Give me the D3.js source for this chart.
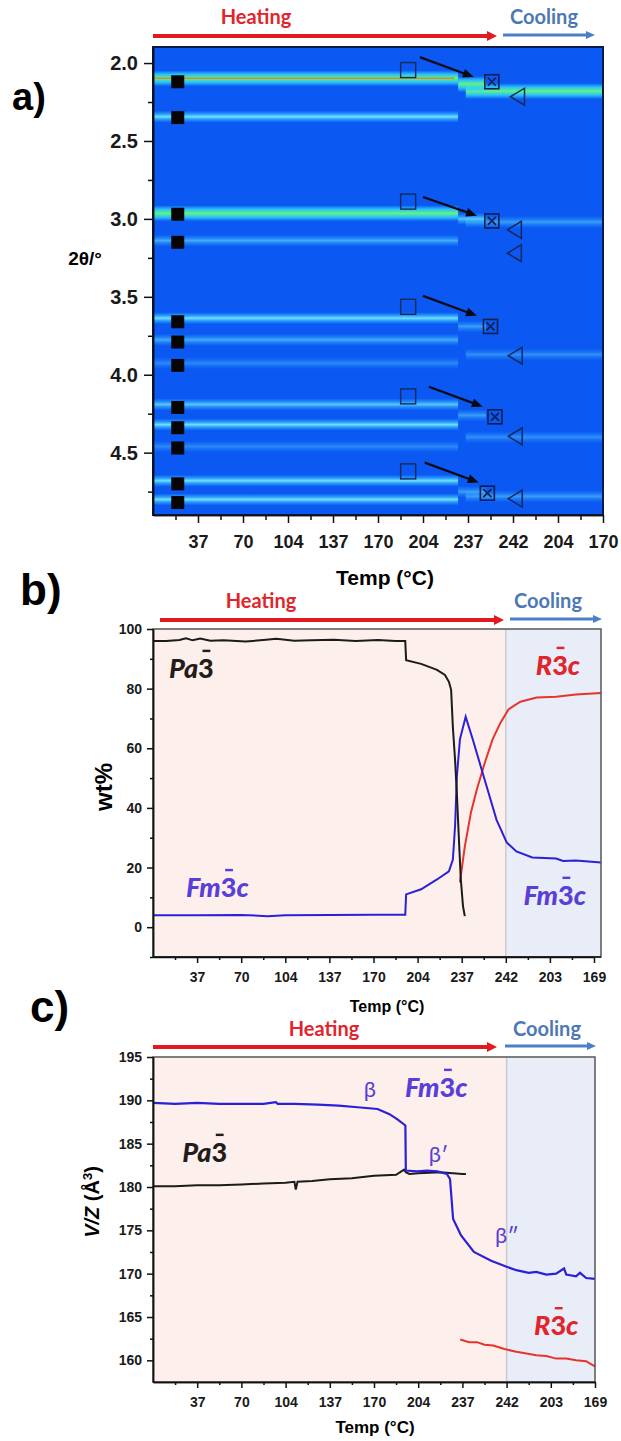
<!DOCTYPE html>
<html>
<head>
<meta charset="utf-8">
<script src="https://cdn.jsdelivr.net/npm/d3@7"></script>
<style>
  body { margin: 0; background: #fff; }
  svg { display: block; }
</style>
</head>
<body>
<svg id="chart" width="621" height="1441"></svg>
<script>
// ---- data ----
// x axis is the frame index (0..10); tick labels give the temperature of each frame
var tickIdx = [1, 2, 3, 4, 5, 6, 7, 8, 9, 10],
  minorIdx = [0.5, 1.5, 2.5, 3.5, 4.5, 5.5, 6.5, 7.5, 8.5, 9.5],
  tempLabelsA = ["37", "70", "104", "137", "170", "204", "237", "242", "204", "170"],
  tempLabelsBC = ["37", "70", "104", "137", "170", "204", "237", "242", "203", "169"];

// a) diffraction bands (2theta) and their relative intensity
var pa3Theta = [2.098, 2.344, 2.964, 3.139, 3.637, 3.776, 3.925, 4.19, 4.32, 4.46, 4.68, 4.80],
  pa3Level = [3, 1, 2, 0.6, 1, 0.6, 0.35, 0.8, 1, 0.35, 1, 1],
  pa3Range = [0, 6.78];
var fmTheta = [2.135, 3.0, 3.69, 4.26, 4.75],
  fmLevel = [2, 0.8, 0.5, 0.5, 0.5],
  fmRange = [6.78, 7.4];
var r3cTheta = [2.18, 3.02, 3.87, 4.40, 4.78],
  r3cLevel = [2, 0.5, 0.4, 0.4, 0.5],
  r3cRange = [6.95, 10];

// a) peak markers
var pa3MarkIdx = 0.55,
  pa3MarkTheta = [2.12, 2.35, 2.97, 3.15, 3.66, 3.79, 3.94, 4.21, 4.34, 4.47, 4.70, 4.82];
var openSqIdx = 5.67,
  openSqTheta = [2.045, 2.889, 3.564, 4.139, 4.62];
var crossSqIdx = [7.53, 7.53, 7.5, 7.6, 7.43],
  crossSqTheta = [2.12, 3.013, 3.69, 4.27, 4.76];
var triIdx = [8.1, 8.03, 8.03, 8.05, 8.05, 8.05],
  triTheta = [2.216, 3.07, 3.22, 3.878, 4.395, 4.795];
var arrowFromIdx = [5.93, 6.0, 6.0, 6.13, 6.04],
  arrowFromTheta = [1.962, 2.859, 3.494, 4.077, 4.564],
  arrowToIdx = [7.13, 7.2, 7.2, 7.33, 7.24],
  arrowToTheta = [2.09, 2.98, 3.622, 4.205, 4.692];

// b) phase fractions, wt%
var bPa3Idx = [0, 0.3, 0.6, 0.75, 0.9, 1.07, 1.3, 1.6, 2.1, 2.5, 2.8, 3.2, 3.6, 4.1, 4.6, 5.1, 5.5, 5.72, 5.74, 6.08, 6.44, 6.62, 6.71, 6.76, 6.80, 6.85, 6.89, 6.94, 6.98, 7.03, 7.07],
  bPa3Wt = [96, 96, 96.3, 96.9, 96.2, 96.8, 96.1, 96.2, 95.8, 96.3, 96.7, 96.1, 96.2, 96.4, 96.0, 96.3, 96.0, 96.0, 89.5, 88.3, 86.3, 84.6, 82.3, 79.6, 67, 56, 45, 28.4, 16, 7, 3.7];
var bFmIdx = [0, 1, 2, 2.6, 3, 4, 5, 5.72, 5.74, 6.08, 6.44, 6.71, 6.80, 6.85, 6.89, 6.96, 7.09, 7.25, 7.43, 7.61, 7.79, 8.02, 8.24, 8.60, 9.14, 9.3, 9.59, 10.16],
  bFmWt = [4, 4, 4.1, 3.7, 4, 4.1, 4.2, 4.2, 11, 12.7, 16, 18.7, 22.7, 34, 50.5, 63, 70.6, 63, 54, 45, 36, 28.4, 25.4, 23.4, 23, 22.2, 22.4, 21.7];
var bR3cIdx = [6.96, 7.07, 7.21, 7.34, 7.52, 7.70, 7.88, 8.06, 8.33, 8.70, 9.14, 9.59, 10.16],
  bR3cWt = [15, 27, 38.5, 46, 55, 63, 68.6, 73, 75.6, 77, 77.3, 78, 78.5];

// c) volume per formula unit, A^3
var cFmIdx = [0, 0.5, 1, 1.5, 2, 2.5, 2.78, 2.82, 3.2, 3.73, 4.2, 4.63, 5.08, 5.35, 5.53, 5.71, 5.72, 5.98, 6.2, 6.43, 6.65, 6.72, 6.79, 6.97, 7.26, 7.65, 8.0, 8.22, 8.5, 8.67, 8.9, 9.12, 9.3, 9.35, 9.57, 9.66, 9.8, 10],
  cFmV = [189.7, 189.6, 189.7, 189.6, 189.6, 189.6, 189.8, 189.6, 189.6, 189.5, 189.4, 189.2, 189.0, 188.4, 187.8, 187.1, 181.9, 181.8, 181.9, 181.8, 181.5, 180.9, 176.3, 174.4, 172.5, 171.5, 170.8, 170.4, 170.1, 170.2, 169.9, 170.0, 170.6, 169.9, 169.7, 170.1, 169.5, 169.4];
var cPa3Idx = [0, 0.5, 1, 1.5, 2, 2.5, 3.0, 3.2, 3.23, 3.27, 3.6, 4.0, 4.5, 5.0, 5.5, 5.68, 5.72, 5.8, 6.0, 6.5, 7.0, 7.08],
  cPa3V = [180.1, 180.1, 180.2, 180.2, 180.3, 180.4, 180.5, 180.6, 179.7, 180.6, 180.7, 180.9, 181.0, 181.3, 181.4, 182.0, 181.7, 181.5, 181.6, 181.7, 181.5, 181.5];
var cR3cIdx = [6.95, 7.15, 7.33, 7.5, 7.70, 7.95, 8.22, 8.45, 8.67, 8.9, 9.12, 9.35, 9.57, 9.8, 9.9, 10],
  cR3cV = [162.4, 162.1, 162.1, 161.8, 161.7, 161.3, 161.0, 160.8, 160.6, 160.5, 160.2, 160.2, 160.0, 159.9, 159.6, 159.3];

// ---- drawing ----
var svg = d3.select("#chart");
var ARIAL = "'Liberation Sans', Arial, sans-serif",
  CALI = "Lato, 'Open Sans', sans-serif";
var defs = svg.append("defs");

function zip(a, b) { return a.map(function (d, i) { return [d, b[i]]; }); }

function arrow(g, x1, y1, x2, y2, color, w, hl, hw) {
  var a = Math.atan2(y2 - y1, x2 - x1), c = Math.cos(a), s = Math.sin(a);
  g.append("line").attr("x1", x1).attr("y1", y1)
    .attr("x2", x2 - c * hl * 0.8).attr("y2", y2 - s * hl * 0.8)
    .attr("stroke", color).attr("stroke-width", w);
  g.append("path")
    .attr("d", "M" + x2 + "," + y2 +
      "L" + (x2 - c * hl - s * hw / 2) + "," + (y2 - s * hl + c * hw / 2) +
      "L" + (x2 - c * hl + s * hw / 2) + "," + (y2 - s * hl - c * hw / 2) + "Z")
    .attr("fill", color);
}

function heatCool(g, hx, cx, ty, r1, r2, b1, b2, ay) {
  g.append("text").attr("x", hx).attr("y", ty).attr("text-anchor", "middle")
    .style("font-family", CALI).style("font-weight", 700).style("font-size", "20px")
    .attr("fill", "#e2242b").text("Heating");
  g.append("text").attr("x", cx).attr("y", ty).attr("text-anchor", "middle")
    .style("font-family", CALI).style("font-weight", 700).style("font-size", "20px")
    .attr("fill", "#4d78b5").text("Cooling");
  arrow(g, r1, ay, r2, ay, "#e01a1e", 4, 10, 10);
  arrow(g, b1, ay - 1, b2, ay - 1, "#4d7fc4", 3, 9, 8);
}

function phase(g, x, y, pre, post, color, size) {
  var t = g.append("text").attr("x", x).attr("y", y).attr("fill", color)
    .style("font-family", CALI).style("font-weight", 900)
    .style("font-style", "italic").style("font-size", size + "px");
  t.append("tspan").text(pre);
  t.append("tspan").style("font-style", "normal").text("3");
  if (post) t.append("tspan").text(post);
  var node = t.node(), i = pre.length;
  var s = node.getStartPositionOfChar(i).x, e = node.getEndPositionOfChar(i).x, w = e - s;
  g.append("line").attr("x1", s + w * 0.28).attr("x2", s + w * 0.78)
    .attr("y1", y - size * 1.0).attr("y2", y - size * 1.0)
    .attr("stroke", color).attr("stroke-width", size * 0.09);
}

function styleAxis(sel, size) {
  sel.selectAll("text").style("font-family", ARIAL).style("font-weight", 700)
    .style("font-size", size + "px").attr("fill", "#1a1a1a");
  sel.selectAll("line").attr("stroke", "#111").attr("stroke-width", 1.5);
  sel.select(".domain").attr("stroke", "#111").attr("stroke-width", 1.5);
}

function panelLabel(x, y, txt, size) {
  svg.append("text").attr("x", x).attr("y", y).text(txt)
    .style("font-family", ARIAL).style("font-weight", 700).style("font-size", size + "px");
}

// ===== panel a) =====
var xA = d3.scaleLinear().domain([0, 10]).range([153, 603]),
  yA = d3.scaleLinear().domain([1.897, 4.9]).range([47, 515]);
var gA = svg.append("g");

function grad(id, core, edge, mid) {
  var lg = defs.append("linearGradient").attr("id", id)
    .attr("x1", 0).attr("y1", 0).attr("x2", 0).attr("y2", 1);
  [[0, edge, 0], [0.25, edge, mid], [0.5, core, 1], [0.75, edge, mid], [1, edge, 0]].forEach(function (s) {
    lg.append("stop").attr("offset", s[0]).attr("stop-color", s[1]).attr("stop-opacity", s[2]);
  });
}
grad("bandStrong", "#63f57a", "#2fd2ff", 0.85);
grad("bandMed", "#74e0ff", "#2aa8ff", 0.75);

gA.append("rect").attr("x", xA(0)).attr("y", yA(1.897))
  .attr("width", xA(10) - xA(0)).attr("height", yA(4.9) - yA(1.897))
  .attr("fill", "#0b58f2");

function bands(theta, level, range) {
  gA.selectAll(null).data(zip(theta, level)).enter().append("rect")
    .attr("x", xA(range[0])).attr("width", xA(range[1]) - xA(range[0]))
    .attr("y", function (d) { return yA(d[0]) - (d[1] >= 2 ? 8 : 6); })
    .attr("height", function (d) { return d[1] >= 2 ? 16 : 12; })
    .attr("fill", function (d) { return d[1] >= 2 ? "url(#bandStrong)" : "url(#bandMed)"; })
    .attr("opacity", function (d) { return Math.min(1, d[1]); });
}
bands(r3cTheta, r3cLevel, r3cRange);
bands(fmTheta, fmLevel, fmRange);
bands(pa3Theta, pa3Level, pa3Range);
// orange core of the strongest reflection
gA.append("line").attr("x1", xA(pa3Range[0])).attr("x2", xA(pa3Range[1]) - 4)
  .attr("y1", yA(pa3Theta[0])).attr("y2", yA(pa3Theta[0]))
  .attr("stroke", "#d98a2a").attr("stroke-width", 1.6);

// markers
gA.selectAll(null).data(pa3MarkTheta).enter().append("rect")
  .attr("x", xA(pa3MarkIdx) - 6.5).attr("y", function (d) { return yA(d) - 6.5; })
  .attr("width", 13).attr("height", 13).attr("fill", "#050505");
gA.selectAll(null).data(openSqTheta).enter().append("rect")
  .attr("x", xA(openSqIdx) - 7.5).attr("y", function (d) { return yA(d) - 7.5; })
  .attr("width", 15).attr("height", 15).attr("fill", "none")
  .attr("stroke", "#142a5c").attr("stroke-width", 1.4);
var cross = gA.selectAll(null).data(zip(crossSqIdx, crossSqTheta)).enter().append("g")
  .attr("transform", function (d) { return "translate(" + xA(d[0]) + "," + yA(d[1]) + ")"; });
cross.append("rect").attr("x", -7).attr("y", -7).attr("width", 14).attr("height", 14)
  .attr("fill", "none").attr("stroke", "#0e1f4e").attr("stroke-width", 1.6);
cross.append("path").attr("d", "M-4,-4L4,4M4,-4L-4,4")
  .attr("stroke", "#0e1f4e").attr("stroke-width", 1.6);
gA.selectAll(null).data(zip(triIdx, triTheta)).enter().append("path")
  .attr("d", function (d) {
    var x = xA(d[0]), y = yA(d[1]);
    return "M" + (x - 7) + "," + y + "L" + (x + 7) + "," + (y - 8.5) + "L" + (x + 7) + "," + (y + 8.5) + "Z";
  })
  .attr("fill", "none").attr("stroke", "#13285a").attr("stroke-width", 1.5);
arrowFromIdx.forEach(function (d, i) {
  arrow(gA, xA(d), yA(arrowFromTheta[i]), xA(arrowToIdx[i]), yA(arrowToTheta[i]), "#0a0a14", 2.2, 11, 9);
});

gA.append("rect").attr("x", xA(0)).attr("y", yA(1.897))
  .attr("width", xA(10) - xA(0)).attr("height", yA(4.9) - yA(1.897))
  .attr("fill", "none").attr("stroke", "#0c1a48").attr("stroke-width", 2);

var axAy = gA.append("g").attr("transform", "translate(" + xA(0) + ",0)")
  .call(d3.axisLeft(yA).tickValues([2.0, 2.5, 3.0, 3.5, 4.0, 4.5]).tickFormat(d3.format(".1f"))
    .tickSize(9).tickSizeOuter(0).tickPadding(6));
styleAxis(axAy, 20);
var axAym = gA.append("g").attr("transform", "translate(" + xA(0) + ",0)")
  .call(d3.axisLeft(yA).tickValues([2.25, 2.75, 3.25, 3.75, 4.25, 4.75]).tickFormat("").tickSize(5).tickSizeOuter(0));
styleAxis(axAym, 20);
var axAx = gA.append("g").attr("transform", "translate(0," + yA(4.9) + ")")
  .call(d3.axisBottom(xA).tickValues(tickIdx).tickFormat(function (d, i) { return tempLabelsA[i]; })
    .tickSize(8).tickSizeOuter(0).tickPadding(12));
styleAxis(axAx, 18);
var axAxm = gA.append("g").attr("transform", "translate(0," + yA(4.9) + ")")
  .call(d3.axisBottom(xA).tickValues(minorIdx).tickFormat("").tickSize(5).tickSizeOuter(0));
styleAxis(axAxm, 18);

gA.append("text").attr("x", 385).attr("y", 585).attr("text-anchor", "middle")
  .style("font-family", ARIAL).style("font-weight", 700).style("font-size", "21px").text("Temp (°C)");
gA.append("text").attr("x", 85).attr("y", 265).attr("text-anchor", "middle")
  .style("font-family", ARIAL).style("font-weight", 700).style("font-size", "19px").text("2θ/°");
heatCool(gA, 256, 544, 24, 153, 497, 503, 595, 36);
panelLabel(12, 110, "a)", 38);

// ===== panel b) =====
var xB = d3.scaleLinear().domain([0, 10]).range([153, 594]),
  yB = d3.scaleLinear().domain([-10, 100]).range([957, 629]),
  bRight = 601;
var gB = svg.append("g");
gB.append("rect").attr("x", xB(0)).attr("y", yB(100)).attr("width", xB(8) - xB(0))
  .attr("height", yB(-10) - yB(100)).attr("fill", "#fdf0ec");
gB.append("rect").attr("x", xB(8)).attr("y", yB(100)).attr("width", bRight - xB(8))
  .attr("height", yB(-10) - yB(100)).attr("fill", "#e8edf8");
gB.append("line").attr("x1", xB(8)).attr("x2", xB(8)).attr("y1", yB(100)).attr("y2", yB(-10))
  .attr("stroke", "#c9c9cf").attr("stroke-width", 1.5);

var lineB = d3.line().x(function (d) { return xB(d[0]); }).y(function (d) { return yB(d[1]); });
gB.append("path").datum(zip(bR3cIdx, bR3cWt)).attr("d", lineB)
  .attr("fill", "none").attr("stroke", "#e8332c").attr("stroke-width", 2);
gB.append("path").datum(zip(bFmIdx, bFmWt)).attr("d", lineB)
  .attr("fill", "none").attr("stroke", "#2b20d6").attr("stroke-width", 2);
gB.append("path").datum(zip(bPa3Idx, bPa3Wt)).attr("d", lineB)
  .attr("fill", "none").attr("stroke", "#1b1b1b").attr("stroke-width", 2);

gB.append("rect").attr("x", xB(0)).attr("y", yB(100)).attr("width", bRight - xB(0))
  .attr("height", yB(-10) - yB(100)).attr("fill", "none").attr("stroke", "#555").attr("stroke-width", 1.5);

var axBy = gB.append("g").attr("transform", "translate(" + xB(0) + ",0)")
  .call(d3.axisLeft(yB).tickValues([0, 20, 40, 60, 80, 100]).tickSize(6).tickSizeOuter(0).tickPadding(5));
styleAxis(axBy, 14);
var axBym = gB.append("g").attr("transform", "translate(" + xB(0) + ",0)")
  .call(d3.axisLeft(yB).tickValues([-10, 10, 30, 50, 70, 90]).tickFormat("").tickSize(3).tickSizeOuter(0));
styleAxis(axBym, 14);
var axBx = gB.append("g").attr("transform", "translate(0," + yB(-10) + ")")
  .call(d3.axisBottom(xB).tickValues(tickIdx).tickFormat(function (d, i) { return tempLabelsBC[i]; })
    .tickSize(6).tickSizeOuter(0).tickPadding(9));
styleAxis(axBx, 14);
var axBxm = gB.append("g").attr("transform", "translate(0," + yB(-10) + ")")
  .call(d3.axisBottom(xB).tickValues(minorIdx).tickFormat("").tickSize(3).tickSizeOuter(0));
styleAxis(axBxm, 14);
axBx.select(".domain").attr("d", "M" + xB(0) + ",0H" + bRight);

gB.append("text").attr("transform", "translate(112,787) rotate(-90)").attr("text-anchor", "middle")
  .style("font-family", ARIAL).style("font-weight", 700).style("font-size", "24px").text("wt%");
gB.append("text").attr("x", 387).attr("y", 1012).attr("text-anchor", "middle")
  .style("font-family", ARIAL).style("font-weight", 700).style("font-size", "16px").text("Temp (°C)");
phase(gB, xB(0.36), yB(83.6), "Pa", "", "#231c1a", 27);
phase(gB, xB(8.68), yB(84.6), "R", "c", "#e0262b", 27);
phase(gB, xB(0.75), yB(10.1), "Fm", "c", "#5a3ed8", 27);
phase(gB, xB(8.4), yB(7.5), "Fm", "c", "#5a3ed8", 27);
heatCool(gB, 261, 548, 608, 160, 504, 510, 602, 620);
panelLabel(20, 605, "b)", 44);

// ===== panel c) =====
var xC = d3.scaleLinear().domain([0, 10]).range([153, 595]),
  yC = d3.scaleLinear().domain([157.5, 195]).range([1382, 1057]);
var gC = svg.append("g");
gC.append("rect").attr("x", xC(0)).attr("y", yC(195)).attr("width", xC(8) - xC(0))
  .attr("height", yC(157.5) - yC(195)).attr("fill", "#fdf0ec");
gC.append("rect").attr("x", xC(8)).attr("y", yC(195)).attr("width", xC(10) - xC(8))
  .attr("height", yC(157.5) - yC(195)).attr("fill", "#e8edf8");
gC.append("line").attr("x1", xC(8)).attr("x2", xC(8)).attr("y1", yC(195)).attr("y2", yC(157.5))
  .attr("stroke", "#c9c9cf").attr("stroke-width", 1.5);

var lineC = d3.line().x(function (d) { return xC(d[0]); }).y(function (d) { return yC(d[1]); });
gC.append("path").datum(zip(cR3cIdx, cR3cV)).attr("d", lineC)
  .attr("fill", "none").attr("stroke", "#e8332c").attr("stroke-width", 2);
gC.append("path").datum(zip(cPa3Idx, cPa3V)).attr("d", lineC)
  .attr("fill", "none").attr("stroke", "#1b1b1b").attr("stroke-width", 2);
gC.append("path").datum(zip(cFmIdx, cFmV)).attr("d", lineC)
  .attr("fill", "none").attr("stroke", "#2b20d6").attr("stroke-width", 2.2);

gC.append("rect").attr("x", xC(0)).attr("y", yC(195)).attr("width", xC(10) - xC(0))
  .attr("height", yC(157.5) - yC(195)).attr("fill", "none").attr("stroke", "#555").attr("stroke-width", 1.5);

var axCy = gC.append("g").attr("transform", "translate(" + xC(0) + ",0)")
  .call(d3.axisLeft(yC).tickValues([160, 165, 170, 175, 180, 185, 190, 195]).tickSize(6).tickSizeOuter(0).tickPadding(5));
styleAxis(axCy, 14);
var axCym = gC.append("g").attr("transform", "translate(" + xC(0) + ",0)")
  .call(d3.axisLeft(yC).tickValues([162.5, 167.5, 172.5, 177.5, 182.5, 187.5, 192.5]).tickFormat("").tickSize(3).tickSizeOuter(0));
styleAxis(axCym, 14);
var axCx = gC.append("g").attr("transform", "translate(0," + yC(157.5) + ")")
  .call(d3.axisBottom(xC).tickValues(tickIdx).tickFormat(function (d, i) { return tempLabelsBC[i]; })
    .tickSize(6).tickSizeOuter(0).tickPadding(9));
styleAxis(axCx, 14);
var axCxm = gC.append("g").attr("transform", "translate(0," + yC(157.5) + ")")
  .call(d3.axisBottom(xC).tickValues(minorIdx).tickFormat("").tickSize(3).tickSizeOuter(0));
styleAxis(axCxm, 14);

var yt = gC.append("text").attr("transform", "translate(99,1202) rotate(-90)").attr("text-anchor", "middle")
  .style("font-family", ARIAL).style("font-weight", 700).style("font-size", "20px");
yt.append("tspan").style("font-style", "italic").text("V/Z");
yt.append("tspan").text(" (Å");
yt.append("tspan").attr("baseline-shift", "super").style("font-size", "13px").text("3");
yt.append("tspan").text(")");
gC.append("text").attr("x", 375).attr("y", 1433).attr("text-anchor", "middle")
  .style("font-family", ARIAL).style("font-weight", 700).style("font-size", "17px").text("Temp (°C)");

function greek(x, y, t) {
  gC.append("text").attr("x", x).attr("y", y).text(t).attr("fill", "#5a3ed8")
    .style("font-family", CALI).style("font-size", "22px");
}
greek(xC(4.77), yC(190.4), "β");
greek(xC(6.24), yC(182.9), "β′");
greek(xC(7.74), yC(173.5), "β″");
phase(gC, xC(5.7), yC(190.4), "Fm", "c", "#5a3ed8", 27);
phase(gC, xC(0.66), yC(182.9), "Pa", "", "#231c1a", 27);
phase(gC, xC(8.62), yC(162.9), "R", "c", "#e0262b", 27);
heatCool(gC, 324, 547, 1036, 153, 497, 505, 596, 1047);
panelLabel(30, 1022, "c)", 44);
</script>
</body>
</html>
